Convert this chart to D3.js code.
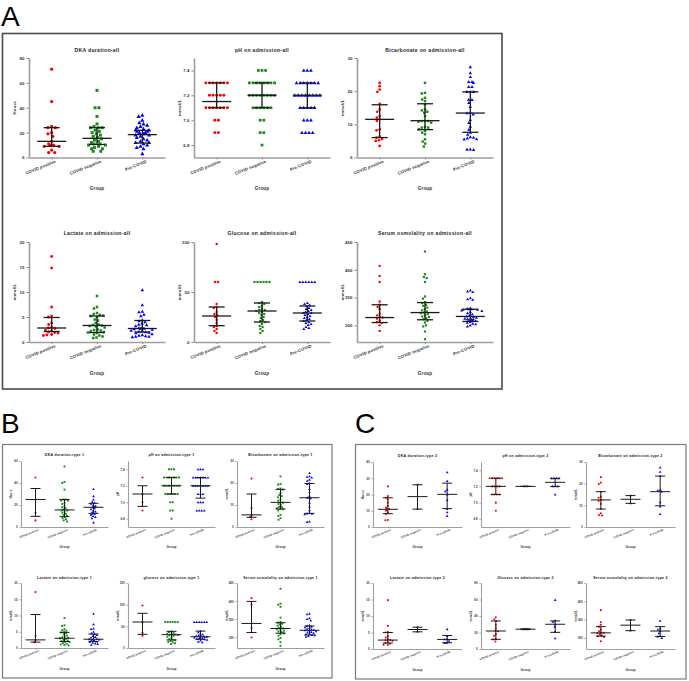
<!DOCTYPE html>
<html><head><meta charset="utf-8">
<script src="https://cdn.jsdelivr.net/npm/d3@7"></script>
<style>body{margin:0;background:#fff}svg{display:block}</style>
</head><body>
<svg id="fig" width="689" height="681"></svg>
<script>
// ---------------- DATA ----------------
const groups = ["COVID positive", "COVID negative", "Pre-COVID"];

// Panel A (all)
const dkaAll = [
  [71, 45, 25, 24, 24, 20, 19, 17, 13, 11, 10, 10, 9, 9, 6, 4, 4],
  [54, 40, 40, 33, 27, 25, 24, 24, 24, 22, 21, 20, 19, 18, 17, 16, 15, 14, 13, 12, 11, 11, 10, 10, 9, 8, 7, 7, 5, 5],
  [34, 33, 30, 28, 27, 26, 25, 24, 23, 22, 22, 21, 21, 20, 20, 19, 18, 18, 17, 16, 15, 14, 13, 12, 12, 11, 10, 9, 8, 7, 3]];
const dkaAllIQR = [[9, 13, 24], [10.5, 15.4, 24], [11.6, 18.4, 21.8]];

const phAll = [
  [7.3, 7.3, 7.3, 7.3, 7.3, 7.3, 7.3, 7.2, 7.2, 7.2, 7.2, 7.2, 7.1, 7.1, 7.1, 7.1, 7.1, 7.1, 7.1, 7.0, 7.0, 6.9, 6.9],
  [7.4, 7.4, 7.4, 7.3, 7.3, 7.3, 7.3, 7.3, 7.3, 7.3, 7.3, 7.2, 7.2, 7.2, 7.2, 7.2, 7.2, 7.2, 7.2, 7.1, 7.1, 7.1, 7.1, 7.1, 7.1, 7.0, 7.0, 6.9, 6.9, 6.8],
  [7.4, 7.4, 7.4, 7.3, 7.3, 7.3, 7.3, 7.3, 7.3, 7.3, 7.2, 7.2, 7.2, 7.2, 7.2, 7.2, 7.2, 7.2, 7.1, 7.1, 7.1, 7.1, 7.1, 7.0, 7.0, 7.0, 6.9, 6.9, 6.9, 6.9]];
const phAllIQR = [[7.1, 7.15, 7.3], [7.1, 7.2, 7.3], [7.1, 7.2, 7.3]];

const bicAll = [
  [22.5, 21.5, 20.5, 19.8, 16.2, 14.5, 13.8, 12.5, 12, 11.5, 11, 8.5, 8.2, 6.3, 6, 5.6, 5.2, 5, 3.5],
  [22.5, 19.5, 19.3, 18, 17.5, 17, 16, 14.5, 14.2, 13.8, 13.5, 12.5, 11, 11, 11, 10.8, 10.5, 9.2, 9, 9, 8.5, 8, 7.5, 7, 5.5, 4.8, 4.2, 3.3],
  [27.3, 25.5, 24.3, 22.8, 22.8, 22.5, 21.3, 21.3, 19.8, 19.8, 19.8, 17.4, 17.4, 16.5, 15.3, 13.5, 13.4, 13, 11.4, 10.5, 9.3, 8.4, 7.5, 6.9, 6.2, 6, 5.8, 5.6, 5.5, 2.5, 2.4, 2.3]];
const bicAllIQR = [[6, 11.5, 15.9], [8.4, 11.1, 16.2], [7.6, 13.4, 19.8]];

const lacAll = [
  [17.1, 14.8, 7, 5.2, 5, 3.8, 3.5, 2.9, 2.8, 2.7, 2.4, 2.2, 2, 1.9, 1.8, 1.5, 1.4, 1.3],
  [9.2, 7, 6.7, 5.8, 5.6, 5.4, 5.3, 5.2, 5, 4.5, 4.3, 3.8, 3.5, 3.4, 3.3, 3.2, 3.1, 2.9, 2.5, 2.4, 2.3, 2.2, 2, 1.9, 1.8, 1.5, 1.3, 1.1, 0.9, 0.8],
  [10.4, 7.4, 6.1, 6, 5.5, 5.2, 4.4, 4.2, 4, 3.7, 3.5, 3.4, 3.2, 2.9, 2.8, 2.7, 2.7, 2.6, 2.5, 2.3, 2.2, 2.1, 2, 1.9, 1.8, 1.6, 1.4, 1.3, 1.2, 1.1, 1.1, 1]];
const lacAllIQR = [[2.1, 2.8, 4.9], [1.9, 3.3, 5.2], [2.0, 2.7, 4.3]];

const gluAll = [
  [98, 60, 60, 38, 35, 34, 30, 28, 27, 25, 22, 19, 16, 15, 13, 11, 9],
  [60, 60, 60, 60, 60, 60, 40, 39, 38, 36, 35, 33, 32, 32, 31, 30, 29, 28, 27, 25, 24, 22, 21, 20, 18, 16, 15, 13, 11, 9],
  [60, 60, 60, 60, 60, 60, 39, 38, 37, 36, 34, 33, 32, 31, 30, 29, 29, 28, 27, 26, 25, 24, 23, 22, 21, 20, 19, 18, 17, 15, 14, 13]];
const gluAllIQR = [[16.3, 26, 35], [20, 31, 39], [21, 29, 36]];

const osmAll = [
  [407, 389, 378, 343, 337, 333, 329, 321, 318, 315, 314, 312, 308, 306, 304, 300, 290],
  [433, 392, 387, 385, 378, 352, 348, 342, 340, 337, 335, 332, 329, 327, 325, 323, 322, 320, 318, 316, 315, 313, 311, 308, 305, 300, 298, 289, 275],
  [363, 361, 360, 349, 347, 346, 331, 330, 329, 329, 328, 328, 327, 326, 324, 322, 320, 318, 316, 315, 314, 313, 312, 311, 311, 310, 310, 309, 308, 306, 305, 303, 302, 300, 298]];
const osmAllIQR = [[305, 314, 337], [310, 323, 341], [307, 316, 329]];

// Panel B (type 1)
const dkaT1 = [
  [45, 25, 13, 6],
  [55, 41, 40, 34, 25, 25, 24, 24, 22, 21, 19, 18, 17, 16, 15, 15, 14, 13, 12, 11, 10, 9, 8, 7, 6, 5],
  [34.5, 28, 25, 23, 22, 21, 20, 19, 18, 18, 17, 16, 15, 14, 13, 12, 12, 11, 10, 9, 8, 4]];
const dkaT1IQR = [[9.7, 25, 35], [9.4, 15.5, 25], [12.4, 17.9, 21.5]];

const phT1 = [
  [7.3, 7.1, 7.0, 6.9],
  [7.4, 7.4, 7.4, 7.3, 7.3, 7.3, 7.3, 7.3, 7.3, 7.3, 7.2, 7.2, 7.2, 7.2, 7.2, 7.2, 7.2, 7.1, 7.1, 7.1, 7.1, 7.1, 7.1, 7.0, 7.0, 6.9, 6.9, 6.8],
  [7.4, 7.4, 7.4, 7.3, 7.3, 7.3, 7.3, 7.3, 7.3, 7.3, 7.2, 7.2, 7.2, 7.2, 7.2, 7.2, 7.2, 7.1, 7.1, 7.1, 7.0, 7.0, 7.0, 6.9, 6.9, 6.9, 6.9]];
const phT1IQR = [[6.95, 7.1, 7.2], [7.1, 7.2, 7.3], [7.05, 7.2, 7.3]];

const bicT1 = [
  [22, 8.5, 5.5, 4.5, 3.5],
  [23, 19.5, 19.3, 17.5, 17.3, 17, 15.5, 14.5, 14, 13.5, 12.5, 12, 11.2, 11, 10.5, 10, 9.2, 9, 8.5, 8.2, 8, 7.5, 5.5, 5, 4, 3.3],
  [24.5, 23, 22.8, 22.5, 21.5, 21, 20, 19.5, 17.3, 16, 14, 13.3, 13, 11, 9.2, 7.6, 6.3, 6.1, 6, 5.8, 2.5, 2.3]];
const bicT1IQR = [[4.4, 5.5, 15], [8.2, 11.2, 17.1], [6.2, 13.3, 19.8]];

const lacT1 = [
  [17.2, 3.7, 2.5, 1.8],
  [9.2, 7, 6.8, 5.8, 5.5, 5.3, 5, 4.8, 4.5, 4.2, 3.8, 3.5, 3.3, 3.1, 3, 2.8, 2.5, 2.3, 2.1, 1.9, 1.8, 1.5, 1.3, 1.1, 0.9, 0.8],
  [10.5, 7.3, 6, 5.8, 5, 4.5, 4.3, 4, 3.7, 3.4, 3.2, 2.9, 2.8, 2.7, 2.6, 2.4, 2.2, 2, 1.8, 1.6, 1.4, 1.2, 1]];
const lacT1IQR = [[1.8, 2.5, 10.3], [2.0, 3.0, 4.8], [2.0, 2.7, 4.3]];

const gluT1 = [
  [98, 60, 35, 28],
  [60, 60, 60, 60, 60, 60, 38, 37, 35, 33, 32, 31, 30, 29, 28, 26, 24, 21, 19, 18, 16, 14, 13, 11, 9],
  [60, 60, 60, 60, 60, 60, 39, 36, 33, 31, 29, 28, 27, 26, 25, 24, 23, 22, 21, 20, 19, 17, 14, 13]];
const gluT1IQR = [[31.5, 60, 80], [18.5, 30.8, 38.5], [20, 26, 39]];

const osmT1 = [
  [408, 390, 326, 299],
  [434, 393, 390, 384, 354, 342, 340, 337, 335, 332, 329, 326, 324, 322, 320, 318, 316, 314, 311, 308, 304, 298, 294, 286, 276],
  [365, 363, 352, 350, 346, 333, 331, 329, 327, 325, 323, 321, 320, 319, 318, 316, 314, 313, 311, 309, 308, 306, 305, 303, 301]];
const osmT1IQR = [[313, 338, 399], [311, 324, 340], [306, 319, 331]];

// Panel C (type 2)
const dkaT2 = [
  [25, 19, 18, 17, 15, 13, 12, 11, 11, 10, 9, 8, 4.3, 4.2],
  [26, 11],
  [33.6, 28.3, 23, 22, 20, 16.6, 11, 9, 6.8]];
const dkaT2IQR = [[8.2, 10.9, 18], [11, 18.7, 26], [11.3, 20.1, 27]];

const phT2 = [
  [7.3, 7.3, 7.3, 7.3, 7.3, 7.3, 7.2, 7.2, 7.2, 7.2, 7.1, 7.1, 7.1, 7.1, 7.0, 6.9],
  [7.2, 7.2],
  [7.3, 7.3, 7.3, 7.3, 7.2, 7.2, 7.2, 7.1]];
const phT2IQR = [[7.1, 7.2, 7.3], [7.2, 7.2, 7.2], [7.2, 7.25, 7.3]];

const bicT2 = [
  [23, 20.5, 19.8, 16.3, 14, 13.5, 12.5, 12, 10.6, 8.3, 6.3, 5.5, 5.3],
  [14.5, 10.9],
  [27.4, 25.5, 23.5, 17.2, 16.8, 16.3, 11.4, 9.4, 6]];
const bicT2IQR = [[8.3, 12.5, 16.3], [10.9, 12.8, 14.5], [9.8, 16.3, 23.5]];

const lacT2 = [
  [14.8, 7, 5.2, 5, 3.9, 3.5, 3, 2.8, 2.7, 2.5, 2, 1.8, 1.6, 1.3, 1.2],
  [6.6, 5.2],
  [6, 3.9, 3, 2.9, 2.5, 1.9, 1.8]];
const lacT2IQR = [[1.8, 2.7, 5.0], [5.2, 5.9, 6.6], [1.9, 2.9, 4.1]];

const gluT2 = [
  [38.5, 36, 34, 29, 25, 22, 21.5, 18, 16, 12, 11.5, 9],
  [24, 24],
  [59.4, 34.5, 33, 30, 27, 21, 13]];
const gluT2IQR = [[11.7, 21.8, 34], [23.5, 24, 24.5], [20.2, 30, 34]];

const osmT2 = [
  [376, 343, 336, 331, 323, 318, 315, 314, 313, 310, 307, 305, 303, 291],
  [349, 320],
  [347, 326, 323, 319, 313, 305, 304, 300]];
const osmT2IQR = [[305, 314, 331], [320, 335, 349], [304, 319, 331]];

// Tick values
const ticksDkaAll = [0, 20, 40, 60, 80];
const ticksDkaT1 = [0, 20, 40, 60];
const ticksDkaT2 = [0, 10, 20, 30, 40];
const ticksPh = [6.8, 7.0, 7.2, 7.4];
const ticksBic = [0, 10, 20, 30];
const ticksLac = [0, 5, 10, 15, 20];
const ticksGluAll = [0, 50, 100];
const ticksGluT1 = [0, 50, 100, 150];
const ticksGluT2 = [0, 20, 40, 60, 80];
const ticksOsm = [300, 350, 400, 450];

// ---------------- DRAWING ----------------
const FONT = "'Liberation Sans', Arial, sans-serif";
const colors = ["#ff0000", "#1b8a1b", "#0000ff"];
const shapes = [d3.symbolCircle, d3.symbolSquare, d3.symbolTriangle];
const shapeK = [0.78, 0.82, 0.7];
const svg = d3.select("#fig");

function frame(x, y, w, h, stroke, sw) {
  svg.append("rect").attr("x", x).attr("y", y).attr("width", w).attr("height", h)
    .attr("fill", "none").attr("stroke", stroke).attr("stroke-width", sw);
}
frame(2.5, 33.5, 499.5, 355.5, "#4a4a4a", 1.6);
frame(2.5, 444.5, 329.5, 233.5, "#7a7a7a", 1.2);
frame(355.5, 444.5, 330.5, 234.5, "#7a7a7a", 1.2);
[["A", 1, 25.5], ["B", 1, 433], ["C", 355, 433]].forEach(([t, x, y]) => {
  svg.append("text").attr("x", x).attr("y", y).text(t)
    .attr("font-family", FONT).attr("font-size", 28).attr("fill", "#000");
});

function swarm(vals, y, size) {
  const pts = vals.map(v => ({ v, y: y(v), dx: 0 })).sort((a, b) => a.y - b.y);
  const placed = [];
  for (const p of pts) {
    const ivs = [];
    for (const q of placed) {
      const dy = Math.abs(q.y - p.y);
      if (dy < size) { const w = Math.sqrt(size * size - dy * dy); ivs.push([q.dx - w, q.dx + w]); }
    }
    const cands = [0];
    ivs.forEach(iv => cands.push(iv[0], iv[1]));
    cands.sort((a, b) => Math.abs(a) - Math.abs(b));
    for (const c of cands) {
      if (ivs.every(iv => c <= iv[0] + 1e-6 || c >= iv[1] - 1e-6)) { p.dx = c; break; }
    }
    placed.push(p);
  }
  d3.group(placed, d => d.v).forEach(arr => {
    if (arr.length > 1) { const m = d3.mean(arr, d => d.dx); arr.forEach(d => d.dx -= m); }
  });
  return placed;
}

function drawChart(c, P) {
  const g = svg.append("g");
  const x0 = c.x0, x1 = c.x0 + P.w;
  const x = d3.scalePoint().domain(groups).range([x0, x1]).padding(0.5);
  const y = d3.scaleLinear().domain(c.dom).range([c.yBot, c.yTop]);
  const fmt = c.fmt ? d3.format(c.fmt) : d3.format("d");

  const ya = g.append("g").attr("transform", `translate(${x0},0)`)
    .call(d3.axisLeft(y).tickValues(c.ticks).tickFormat(fmt).tickSize(P.tickLen).tickSizeOuter(0).tickPadding(P.tickPad));
  const xa = g.append("g").attr("transform", `translate(0,${c.yBot})`)
    .call(d3.axisBottom(x).tickSize(P.tickLen * 0.8).tickSizeOuter(0));
  [ya, xa].forEach(a => {
    a.select(".domain").attr("stroke", "#9e9e9e").attr("stroke-width", P.ax);
    a.selectAll(".tick line").attr("stroke", "#8a8a8a").attr("stroke-width", P.ax * 0.6);
    a.selectAll("text").attr("font-family", FONT).attr("fill", "#333").attr("font-weight", "bold");
  });
  ya.selectAll("text").attr("font-size", P.tick);
  xa.selectAll("text").attr("font-size", P.xlab).attr("text-anchor", "end")
    .attr("y", 0).attr("dy", 0)
    .attr("transform", `translate(${P.xlabDx},${P.xlabDy}) rotate(-22)`)
    .style("letter-spacing", P.xls + "px");

  c.data.forEach((vals, gi) => {
    const pts = swarm(vals, y, c.m + P.gap);
    const sym = d3.symbol().type(shapes[gi]).size(c.m * c.m * shapeK[gi]);
    g.append("g").selectAll("path").data(pts).join("path")
      .attr("d", sym)
      .attr("transform", d => `translate(${x(groups[gi]) + d.dx},${d.y + (gi === 2 ? c.m * 0.08 : 0)})`)
      .attr("fill", colors[gi]);
  });

  c.iqr.forEach((s, gi) => {
    const cx = x(groups[gi]);
    const lines = [
      [cx, y(s[0]), cx, y(s[2])],
      [cx - P.cap / 2, y(s[0]), cx + P.cap / 2, y(s[0])],
      [cx - P.cap / 2, y(s[2]), cx + P.cap / 2, y(s[2])],
      [cx - P.med / 2, y(s[1]), cx + P.med / 2, y(s[1])]];
    g.append("g").selectAll("line").data(lines).join("line")
      .attr("x1", d => d[0]).attr("y1", d => d[1]).attr("x2", d => d[2]).attr("y2", d => d[3])
      .attr("stroke", "#1a1a1a").attr("stroke-width", P.lw);
  });

  const mid = x(groups[1]);
  g.append("text").attr("x", mid).attr("y", c.titleY).attr("text-anchor", "middle")
    .attr("font-family", FONT).attr("font-weight", "bold").attr("font-size", P.title)
    .style("letter-spacing", P.tls + "px").attr("fill", "#222").text(c.t);
  g.append("text").attr("x", mid).attr("y", c.groupY).attr("text-anchor", "middle")
    .attr("font-family", FONT).attr("font-weight", "bold").attr("font-size", P.group)
    .style("letter-spacing", P.gls + "px").attr("fill", "#333").text("Group");
  g.append("text").attr("transform", `translate(${x0 - P.ylDx},${(c.yTop + c.yBot) / 2}) rotate(-90)`)
    .attr("text-anchor", "middle").attr("font-family", FONT).attr("font-weight", "bold")
    .attr("font-size", P.ylab).style("letter-spacing", P.gls + "px").attr("fill", "#333").text(c.yl);
}

const PA = { w: 136, tickLen: 2.6, tickPad: 2, ax: 1.6, tick: 4.4, xlab: 4.2, xls: 0.15, xlabDx: 4, xlabDy: 5,
  gap: 0.6, cap: 16, med: 29, lw: 1.3, title: 5, tls: 0.35, group: 4.6, gls: 0.15, ylab: 4.4, ylDx: 13 };
const PB = { w: 87, tickLen: 1.8, tickPad: 1.5, ax: 1.1, tick: 3, xlab: 2.7, xls: 0.1, xlabDx: 3, xlabDy: 3.5,
  gap: 0.4, cap: 10, med: 20, lw: 1, title: 3.6, tls: 0.25, group: 3.2, gls: 0.1, ylab: 3, ylDx: 9 };
const PC = Object.assign({}, PB, { w: 89 });

const colsA = [29, 194, 357], rowsA = [[58, 157.5, 52, 190], [242, 342, 235, 375]];
const colsB = [21, 128, 237], rowsB = [[461, 527, 455.5, 548], [583, 648, 578.5, 670]];
const colsC = [373, 481, 586], rowsC = [[462, 527, 457, 548], [583, 649, 579, 671]];

const specsA = [
  { t: "DKA duration-all", yl: "Hours", data: dkaAll, iqr: dkaAllIQR, dom: [0, 80], ticks: ticksDkaAll, m: 3.3 },
  { t: "pH on admission-all", yl: "mmol/L", data: phAll, iqr: phAllIQR, dom: [6.7, 7.5], ticks: ticksPh, fmt: ".1f", m: 3.0 },
  { t: "Bicarbonate on admission-all", yl: "mmol/L", data: bicAll, iqr: bicAllIQR, dom: [0, 30], ticks: ticksBic, m: 2.7 },
  { t: "Lactate on admission-all", yl: "mmol/L", data: lacAll, iqr: lacAllIQR, dom: [0, 20], ticks: ticksLac, m: 2.8 },
  { t: "Glucose on admission-all", yl: "mmol/L", data: gluAll, iqr: gluAllIQR, dom: [0, 100], ticks: ticksGluAll, m: 2.4 },
  { t: "Serum osmolality on admission-all", yl: "mmol/L", data: osmAll, iqr: osmAllIQR, dom: [270, 450], ticks: ticksOsm, m: 2.4 }];
const specsB = [
  { t: "DKA duration-type 1", yl: "Hours", data: dkaT1, iqr: dkaT1IQR, dom: [0, 60], ticks: ticksDkaT1, m: 2.1 },
  { t: "pH on admission-type 1", yl: "pH", data: phT1, iqr: phT1IQR, dom: [6.7, 7.5], ticks: ticksPh, fmt: ".1f", m: 2.1 },
  { t: "Bicarbonate on admission-type 1", yl: "mmol/L", data: bicT1, iqr: bicT1IQR, dom: [0, 30], ticks: ticksBic, m: 2.1 },
  { t: "Lactate on admission-type 1", yl: "mmol/L", data: lacT1, iqr: lacT1IQR, dom: [0, 20], ticks: ticksLac, m: 2.1 },
  { t: "glucose on admission-type 1", yl: "mmol/L", data: gluT1, iqr: gluT1IQR, dom: [0, 150], ticks: ticksGluT1, m: 2.1 },
  { t: "Serum osmolality on admission-type 1", yl: "mmol/L", data: osmT1, iqr: osmT1IQR, dom: [270, 450], ticks: ticksOsm, m: 2.1 }];
const specsC = [
  { t: "DKA duration-type 2", yl: "Hours", data: dkaT2, iqr: dkaT2IQR, dom: [0, 40], ticks: ticksDkaT2, m: 2.1 },
  { t: "pH on admission-type 2", yl: "pH", data: phT2, iqr: phT2IQR, dom: [6.7, 7.5], ticks: ticksPh, fmt: ".1f", m: 2.1 },
  { t: "Bicarbonate on admission-type 2", yl: "mmol/L", data: bicT2, iqr: bicT2IQR, dom: [0, 30], ticks: ticksBic, m: 2.1 },
  { t: "Lactate on admission-type 2", yl: "mmol/L", data: lacT2, iqr: lacT2IQR, dom: [0, 20], ticks: ticksLac, m: 2.1 },
  { t: "Glucose on admission-type 2", yl: "mmol/L", data: gluT2, iqr: gluT2IQR, dom: [0, 80], ticks: ticksGluT2, m: 2.1 },
  { t: "Serum osmolality on admission-type 2", yl: "mmol/L", data: osmT2, iqr: osmT2IQR, dom: [270, 450], ticks: ticksOsm, m: 2.1 }];

function layout(specs, cols, rows, P) {
  specs.forEach((s, i) => {
    const r = rows[Math.floor(i / 3)];
    Object.assign(s, { x0: cols[i % 3], yTop: r[0], yBot: r[1], titleY: r[2], groupY: r[3] });
    drawChart(s, P);
  });
}
layout(specsA, colsA, rowsA, PA);
layout(specsB, colsB, rowsB, PB);
layout(specsC, colsC, rowsC, PC);
</script>
</body></html>
